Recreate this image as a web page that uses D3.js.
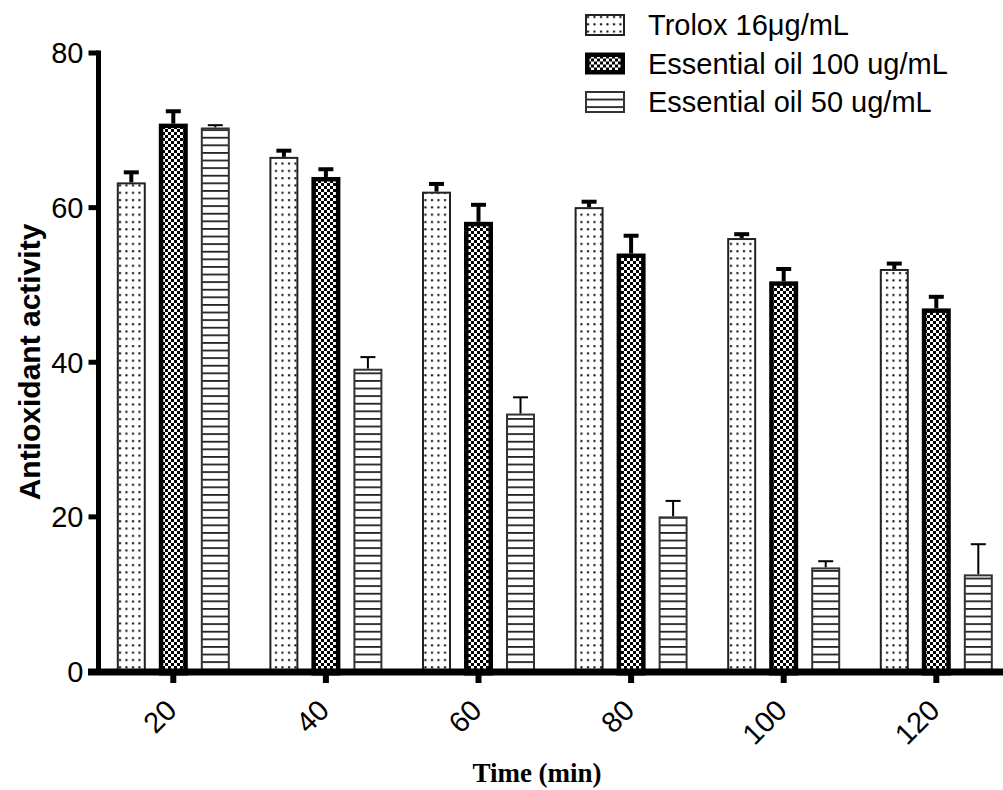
<!DOCTYPE html>
<html>
<head>
<meta charset="utf-8">
<script src="https://cdn.jsdelivr.net/npm/d3@7"></script>
<style>
  body { margin: 0; background: #fff; }
  svg { display: block; }
</style>
</head>
<body>
<div id="chart"></div>
<script>
// Time points (min)
var categories = ["20", "40", "60", "80", "100", "120"];
var seriesNames = ["Trolox 16\u03bcg/mL", "Essential oil 100 ug/mL", "Essential oil 50 ug/mL"];

// Mean antioxidant activity and error (upper bar only) per time point
var troloxMean = [63.2, 66.5, 62.0, 60.0, 56.0, 52.0];
var troloxErr  = [1.3, 0.8, 1.0, 0.7, 0.5, 0.7];
var oil100Mean = [70.8, 63.9, 58.1, 54.0, 50.4, 46.9];
var oil100Err  = [1.6, 1.0, 2.2, 2.3, 1.6, 1.5];
var oil50Mean  = [70.3, 39.1, 33.3, 20.0, 13.4, 12.5];
var oil50Err   = [0.3, 1.5, 2.1, 2.0, 0.8, 3.9];

var yTicks = [0, 20, 40, 60, 80];

var width = 1003, height = 790;

var svg = d3.select("#chart").append("svg")
    .attr("width", width).attr("height", height);

//Fill patterns: dots, checkerboard, horizontal lines
var defs = svg.append("defs");

var dots = defs.append("pattern").attr("id", "dots").attr("patternUnits", "userSpaceOnUse")
    .attr("width", 6.5).attr("height", 7.3);
dots.append("rect").attr("width", 6.5).attr("height", 7.3).attr("fill", "#fff");
dots.append("rect").attr("x", 2).attr("y", 2).attr("width", 2).attr("height", 2).attr("fill", "#000");

var checker = defs.append("pattern").attr("id", "checker").attr("patternUnits", "userSpaceOnUse")
    .attr("width", 6).attr("height", 6);
checker.append("rect").attr("width", 6).attr("height", 6).attr("fill", "#fff");
checker.append("rect").attr("width", 3).attr("height", 3).attr("fill", "#000");
checker.append("rect").attr("x", 3).attr("y", 3).attr("width", 3).attr("height", 3).attr("fill", "#000");

var hlines = defs.append("pattern").attr("id", "hlines").attr("patternUnits", "userSpaceOnUse")
    .attr("width", 10).attr("height", 7.6);
hlines.append("rect").attr("width", 10).attr("height", 7.6).attr("fill", "#fff");
hlines.append("rect").attr("y", 0).attr("width", 10).attr("height", 1.8).attr("fill", "#222");

// Style per series: fill, outline, error bar thickness
var styles = [
    {fill: "url(#dots)", stroke: "#222", sw: 2, ew: 4},
    {fill: "url(#checker)", stroke: "#000", sw: 4.5, ew: 4},
    {fill: "url(#hlines)", stroke: "#333", sw: 2, ew: 2}
];

var means = [troloxMean, oil100Mean, oil50Mean];
var errs = [troloxErr, oil100Err, oil50Err];

var fontSans = "'Liberation Sans', Arial, sans-serif";

// Scales
var x = d3.scaleBand().domain(categories).range([97, 1012.6]).padding(0);
var xSub = d3.scaleBand().domain([0, 1, 2]).range([-56.5, 56.5]).paddingInner(0.31);
var y = d3.scaleLinear().domain([0, 80]).range([671, 52.5]);

// flatten to one record per bar
var bars = [];
categories.forEach(function (c, ci) {
    means.forEach(function (m, si) {
        bars.push({cat: c, s: si, v: m[ci], e: errs[si][ci]});
    });
});
function barX(d) { return x(d.cat) + x.bandwidth() / 2 + xSub(d.s); }

var barG = svg.append("g");
var bw = xSub.bandwidth();

//Error bars (upper only)
barG.selectAll(".errStem").data(bars).enter().append("line")
    .attr("class", "errStem")
    .attr("x1", function (d) { return barX(d) + bw / 2; })
    .attr("x2", function (d) { return barX(d) + bw / 2; })
    .attr("y1", function (d) { return y(d.v); })
    .attr("y2", function (d) { return y(d.v + d.e); })
    .attr("stroke", "#000").attr("stroke-width", function (d) { return styles[d.s].ew; });
barG.selectAll(".errCap").data(bars).enter().append("line")
    .attr("class", "errCap")
    .attr("x1", function (d) { return barX(d) + bw / 2 - 7.5; })
    .attr("x2", function (d) { return barX(d) + bw / 2 + 7.5; })
    .attr("y1", function (d) { return y(d.v + d.e); })
    .attr("y2", function (d) { return y(d.v + d.e); })
    .attr("stroke", "#000").attr("stroke-width", function (d) { return styles[d.s].ew; });

//Bars, outline kept inside the band
barG.selectAll(".bar").data(bars).enter().append("rect")
    .attr("class", "bar")
    .attr("x", function (d) { return barX(d) + styles[d.s].sw / 2; })
    .attr("width", function (d) { return bw - styles[d.s].sw; })
    .attr("y", function (d) { return y(d.v) + styles[d.s].sw / 2; })
    .attr("height", function (d) { return y(0) - y(d.v); })
    .attr("fill", function (d) { return styles[d.s].fill; })
    .attr("stroke", function (d) { return styles[d.s].stroke; })
    .attr("stroke-width", function (d) { return styles[d.s].sw; });

// Y axis
var yAxis = svg.append("g").attr("transform", "translate(98.5,0)")
    .call(d3.axisLeft(y).tickValues(yTicks).tickSize(10).tickSizeOuter(0).tickPadding(5));
yAxis.select(".domain").remove();
yAxis.selectAll(".tick line").attr("stroke", "#000").attr("stroke-width", 5);
yAxis.selectAll(".tick text").attr("font-family", fontSans)
    .attr("font-size", 29).attr("fill", "#000").attr("dy", "0.36em");
yAxis.append("line").attr("x1", 0).attr("x2", 0).attr("y1", y(80) - 2).attr("y2", y(0) + 3)
    .attr("stroke", "#000").attr("stroke-width", 5);

// X axis
var xAxis = svg.append("g").attr("transform", "translate(0,672)")
    .call(d3.axisBottom(x).tickSize(11).tickSizeOuter(0));
xAxis.select(".domain").remove();
xAxis.selectAll(".tick line").attr("stroke", "#000").attr("stroke-width", 6);
xAxis.selectAll(".tick text")
    .attr("font-family", fontSans).attr("font-size", 29).attr("fill", "#000")
    .attr("x", 0).attr("y", 0).attr("dy", 0)
    .attr("text-anchor", "end")
    .attr("transform", "translate(5,40) rotate(-45)");
xAxis.append("line").attr("x1", 88).attr("x2", width).attr("y1", 0).attr("y2", 0)
    .attr("stroke", "#000").attr("stroke-width", 7);

// Axis titles
svg.append("text")
    .attr("transform", "translate(40,362) rotate(-90)")
    .attr("text-anchor", "middle")
    .attr("font-family", fontSans).attr("font-weight", "bold")
    .attr("font-size", 30).attr("fill", "#000")
    .text("Antioxidant activity");

svg.append("text")
    .attr("x", 537).attr("y", 782)
    .attr("text-anchor", "middle")
    .attr("font-family", "'Liberation Serif', 'Times New Roman', serif").attr("font-weight", "bold")
    .attr("font-size", 27).attr("fill", "#000")
    .text("Time (min)");

// Legend
var legend = svg.append("g").selectAll("g").data(seriesNames).enter().append("g")
    .attr("transform", function (d, i) { return "translate(585," + (14 + i * 38.5) + ")"; });
legend.append("rect")
    .attr("x", function (d, i) { return styles[i].sw / 2; })
    .attr("y", function (d, i) { return styles[i].sw / 2; })
    .attr("width", function (d, i) { return 40 - styles[i].sw; })
    .attr("height", function (d, i) { return 22 - styles[i].sw; })
    .attr("fill", function (d, i) { return styles[i].fill; })
    .attr("stroke", function (d, i) { return styles[i].stroke; })
    .attr("stroke-width", function (d, i) { return styles[i].sw; });
legend.append("text")
    .attr("x", 63).attr("y", 11).attr("dy", "0.36em")
    .attr("font-family", fontSans).attr("font-size", 29).attr("fill", "#000")
    .text(function (d) { return d; });
</script>
</body>
</html>
